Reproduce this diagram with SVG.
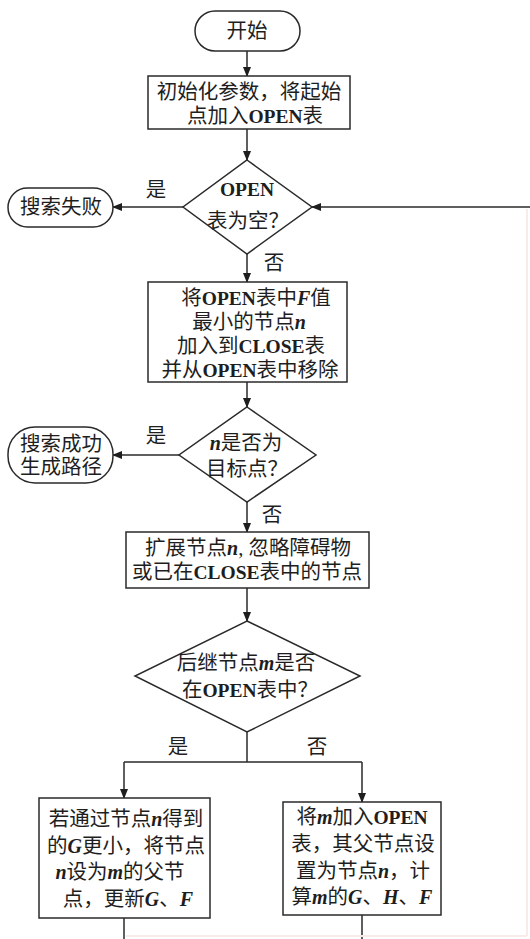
<svg xmlns="http://www.w3.org/2000/svg" width="530" height="939" viewBox="0 0 530 939">
<style>
.s{fill:#fff;stroke:#2a2a2a;stroke-width:1.5}
.c{fill:none;stroke:#2a2a2a;stroke-width:1.5}
.faint{fill:none;stroke:#f7ecea;stroke-width:2}
text{font-family:"Liberation Serif","Noto Sans CJK SC",serif;font-size:20.5px;fill:#1e1e1e;text-anchor:middle}
.l{font-weight:bold;font-size:19.5px}
.i{font-style:italic;font-weight:bold;font-size:20px}
</style>
<defs>
<marker id="a" markerWidth="10" markerHeight="8" refX="9" refY="4" orient="auto" markerUnits="userSpaceOnUse">
<path d="M0,0 L10,4 L0,8 Z" fill="#1e1e1e"/>
</marker>
</defs>
<rect width="530" height="939" fill="#fff"/>
<g id="connectors">
<path class="c" d="M247,51 V76" marker-end="url(#a)"/>
<path class="c" d="M247,129 V160" marker-end="url(#a)"/>
<path class="c" d="M183,207 H113" marker-end="url(#a)"/>
<path class="c" d="M530,207 H312" marker-end="url(#a)"/>
<path class="c" d="M247,254 V282" marker-end="url(#a)"/>
<path class="c" d="M247,382 V407" marker-end="url(#a)"/>
<path class="c" d="M179,455 H113" marker-end="url(#a)"/>
<path class="c" d="M247,502 V532" marker-end="url(#a)"/>
<path class="c" d="M247,588 V621" marker-end="url(#a)"/>
<path class="c" d="M247,732 V762"/>
<path class="c" d="M124,762 H362"/>
<path class="c" d="M124,762 V798" marker-end="url(#a)"/>
<path class="c" d="M362,762 V802" marker-end="url(#a)"/>
<path class="c" d="M124,918 V939"/>
<path class="c" d="M362,915 V939"/>
<path class="faint" d="M527,209 V936 M126,936 H527"/>
<text x="156" y="197">是</text>
<text x="274" y="270">否</text>
<text x="156" y="443">是</text>
<text x="272" y="522">否</text>
<text x="178" y="754">是</text>
<text x="317" y="754">否</text>
</g>
<g id="start">
<rect class="s" x="195" y="11" width="105" height="40" rx="20"/>
<text x="247" y="38">开始</text>
</g>
<g id="init">
<rect class="s" x="148" y="76" width="202" height="53"/>
<text x="249" y="99">初始化参数，将起始</text>
<text x="255" y="123">点加入<tspan class="l">OPEN</tspan>表</text>
</g>
<g id="d1">
<path class="s" d="M247,160 L312,207 L247,254 L183,207 Z"/>
<text x="247" y="196" class="l">OPEN</text>
<text x="248" y="228">表为空？</text>
</g>
<g id="fail">
<rect class="s" x="8" y="188" width="105" height="39" rx="19.5"/>
<text x="61" y="214">搜索失败</text>
</g>
<g id="pick">
<rect class="s" x="148" y="282" width="199" height="100"/>
<text x="256" y="305">将<tspan class="l">OPEN</tspan>表中<tspan class="i">F</tspan>值</text>
<text x="249" y="329">最小的节点<tspan class="i">n</tspan></text>
<text x="251" y="353">加入到<tspan class="l">CLOSE</tspan>表</text>
<text x="250" y="377">并从<tspan class="l">OPEN</tspan>表中移除</text>
</g>
<g id="d2">
<path class="s" d="M247,407 L316,455 L247,502 L179,455 Z"/>
<text x="246" y="450"><tspan class="i">n</tspan>是否为</text>
<text x="247" y="476">目标点？</text>
</g>
<g id="success">
<rect class="s" x="8" y="427" width="105" height="56" rx="27"/>
<text x="61" y="451">搜索成功</text>
<text x="61" y="474">生成路径</text>
</g>
<g id="expand">
<rect class="s" x="126" y="532" width="243" height="56"/>
<text x="248" y="555">扩展节点<tspan class="i">n</tspan>, 忽略障碍物</text>
<text x="247" y="579">或已在<tspan class="l">CLOSE</tspan>表中的节点</text>
</g>
<g id="d3">
<path class="s" d="M247,621 L360,676 L247,732 L135,676 Z"/>
<text x="246" y="670">后继节点<tspan class="i">m</tspan>是否</text>
<text x="250" y="697">在<tspan class="l">OPEN</tspan>表中？</text>
</g>
<g id="update">
<rect class="s" x="39" y="798" width="171" height="120"/>
<text x="126" y="826">若通过节点<tspan class="i">n</tspan>得到</text>
<text x="126" y="853">的<tspan class="i">G</tspan>更小，将节点</text>
<text x="120" y="879"><tspan class="i">n</tspan>设为<tspan class="i">m</tspan>的父节</text>
<text x="128" y="906">点，更新<tspan class="i">G</tspan>、<tspan class="i">F</tspan></text>
</g>
<g id="add">
<rect class="s" x="283" y="802" width="158" height="113"/>
<text x="362" y="824">将<tspan class="i">m</tspan>加入<tspan class="l">OPEN</tspan></text>
<text x="363" y="851">表，其父节点设</text>
<text x="363" y="878">置为节点<tspan class="i">n</tspan>，计</text>
<text x="362" y="904">算<tspan class="i">m</tspan>的<tspan class="i">G</tspan>、<tspan class="i">H</tspan>、<tspan class="i">F</tspan></text>
</g>
</svg>
